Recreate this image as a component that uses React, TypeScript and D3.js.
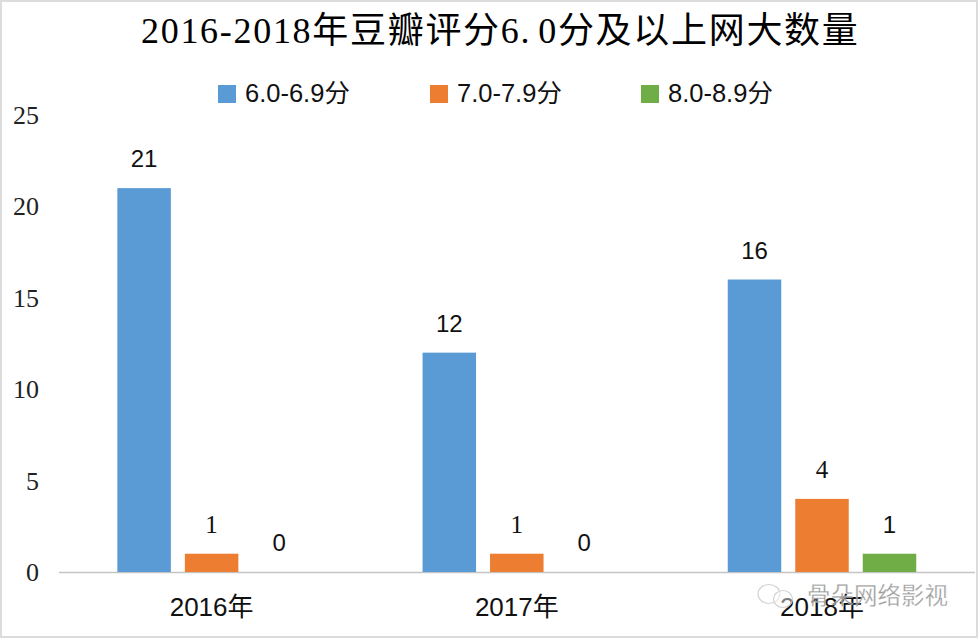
import React from "react";
import * as d3 from "d3";

const categories = ["2016年", "2017年", "2018年"];
const seriesNames = ["6.0-6.9分", "7.0-7.9分", "8.0-8.9分"];
const colors = ["#5B9BD5", "#ED7D31", "#70AD47"];
const values6 = [21, 12, 16];
const values7 = [1, 1, 4];
const values8 = [0, 0, 1];
const yTicks = [0, 5, 10, 15, 20, 25];
const titleStart = "2016-2018年豆瓣评分6.";
const titleEnd = "0分及以上网大数量";
const watermark = "骨朵网络影视";

const serif = "'Liberation Serif','Noto Sans CJK SC',serif";
const sans = "'Liberation Sans','Noto Sans CJK SC',sans-serif";
const cjk = "'Noto Sans CJK SC',sans-serif";

export default function App() {
  const W = 979, H = 639;
  const y = d3.scaleLinear().domain([0, 25]).range([572, 115]);
  const x0 = d3.scaleBand<string>().domain(categories).range([59, 974.6]);
  const offset = d3.scaleLinear().domain([0, 2]).range([-67.5, 67.5]);
  const barW = 53.5;
  const series = [values6, values7, values8];
  const legendX = [218, 430, 641];
  return (
    <svg width={W} height={H} style={{ position: "absolute", left: 0, top: 0, background: "#fff" }}>
      <rect x={1} y={1} width={W - 3} height={H - 3} fill="#fff" stroke="#dcdcdc" strokeWidth={2} />
      <text x={141} y={43} fontFamily={serif} fontSize={36} letterSpacing={1.7} fill="#000">
        {titleStart}
        <tspan dx={7}>{titleEnd}</tspan>
      </text>
      {seriesNames.map((n, i) => (
        <g key={n}>
          <rect x={legendX[i]} y={85} width={18} height={18} fill={colors[i]} />
          <text x={legendX[i] + 27} y={102} fontFamily={sans} fontSize={25.5} fill="#111">{n}</text>
        </g>
      ))}
      {yTicks.map(t => (
        <text key={t} x={39} y={y(t) + 9} textAnchor="end" fontFamily={serif} fontSize={26} fill="#222">{t}</text>
      ))}
      <line x1={59} x2={975} y1={572.5} y2={572.5} stroke="#c4c4c4" strokeWidth={1.5} />
      {categories.map((c, ci) => {
        const cx = (x0(c) as number) + x0.bandwidth() / 2;
        return (
          <g key={c}>
            {series.map((s, si) => {
              const v = s[ci];
              const bx = cx + offset(si) - barW / 2;
              return (
                <g key={si}>
                  {v > 0 && <rect x={bx} y={y(v)} width={barW} height={y(0) - y(v)} fill={colors[si]} />}
                  <text x={bx + barW / 2} y={y(v) - 21} textAnchor="middle" fontFamily={si === 1 ? serif : sans} fontSize={si === 1 ? 25 : 24} fill="#111">{v}</text>
                </g>
              );
            })}
            <text x={cx} y={616} textAnchor="middle" fontFamily={sans} fontSize={26} fill="#111">{c}</text>
          </g>
        );
      })}
      <g fill="none" stroke="#cfcfcf" strokeWidth={1.2} opacity={0.9}>
        <ellipse cx={769} cy={594} rx={11} ry={9.5} />
        <ellipse cx={783} cy={599} rx={9.5} ry={8.5} fill="#fff" fillOpacity={0.5} />
      </g>
      <text x={807} y={604} fontFamily={cjk} fontSize={23.5} fill="#8c8c8c" stroke="#fff" strokeWidth={0.3} opacity={0.85}>{watermark}</text>
    </svg>
  );
}
